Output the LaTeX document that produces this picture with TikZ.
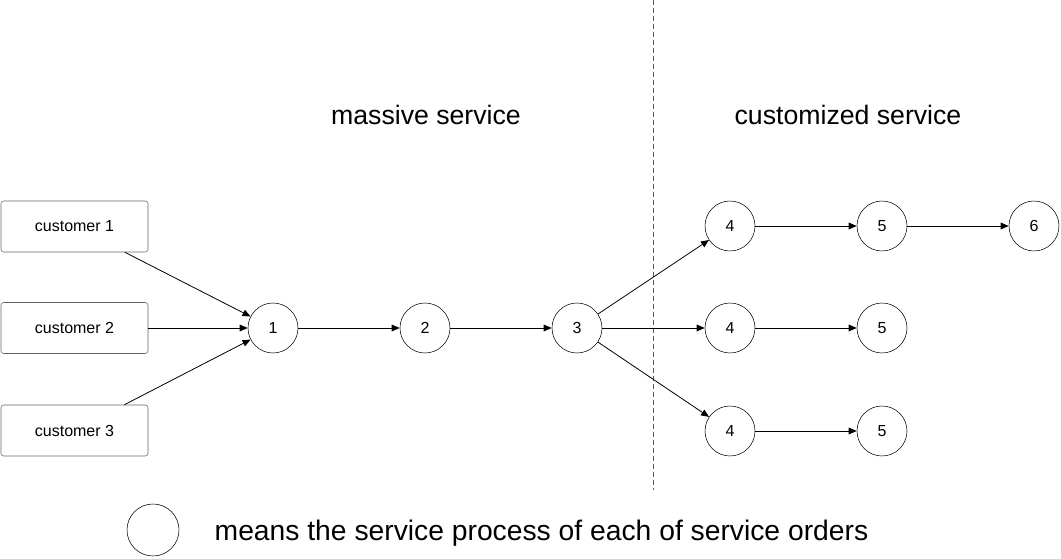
\documentclass[tikz,border=0pt]{standalone}
\usepackage{fontspec}
\setmainfont{Liberation Sans}
\usetikzlibrary{arrows.meta}
\tikzset{
  custbox/.style={draw=black!60, rounded corners=2pt, minimum width=110.25pt, minimum height=38.25pt, inner sep=0pt, font=\fontsize{12}{14}\selectfont},
  proc/.style={draw, circle, minimum size=37.5pt, inner sep=0pt, font=\fontsize{12}{14}\selectfont},
  flow/.style={-{Triangle[length=6pt,width=5pt]}, line width=0.6pt},
  title/.style={font=\fontsize{20}{24}\selectfont}
}
\begin{document}
\begin{tikzpicture}[x=0.75pt,y=-0.75pt]
\useasboundingbox (0,0) rectangle (1061,559);
% separation between the two kinds of service
\draw[dashed, dash pattern=on 4pt off 2pt, black!65, line width=0.7pt] (653,0)--(653,490);
\node[title] (massive) at (426,115) {massive service};
\node[title] (custom) at (848,115) {customized service};
% customers
\node[custbox] (c1) at (74.5,226.5) {customer 1};
\node[custbox] (c2) at (74.5,328) {customer 2};
\node[custbox] (c3) at (74.5,430.5) {customer 3};
% service processes
\node[proc] (p1) at (273,328) {1};
\node[proc] (p2) at (425,328) {2};
\node[proc] (p3) at (577,328) {3};
\node[proc] (p4a) at (730,226) {4};
\node[proc] (p4b) at (730,328) {4};
\node[proc] (p4c) at (730,431) {4};
\node[proc] (p5a) at (882,226) {5};
\node[proc] (p5b) at (882,328) {5};
\node[proc] (p5c) at (882,431) {5};
\node[proc] (p6) at (1034,226) {6};
\draw[flow] (c1)--(p1);
\draw[flow] (c2)--(p1);
\draw[flow] (c3)--(p1);
\draw[flow] (p1)--(p2);
\draw[flow] (p2)--(p3);
\draw[flow] (p3)--(p4a);
\draw[flow] (p3)--(p4b);
\draw[flow] (p3)--(p4c);
\draw[flow] (p4a)--(p5a);
\draw[flow] (p4b)--(p5b);
\draw[flow] (p4c)--(p5c);
\draw[flow] (p5a)--(p6);
% legend
\node[proc, minimum size=39pt] (legend) at (153,530) {};
\node[title, anchor=west, font=\fontsize{21.2}{25}\selectfont] (legendtext) at (210,533) {means the service process of each of service orders};
\end{tikzpicture}
\end{document}
